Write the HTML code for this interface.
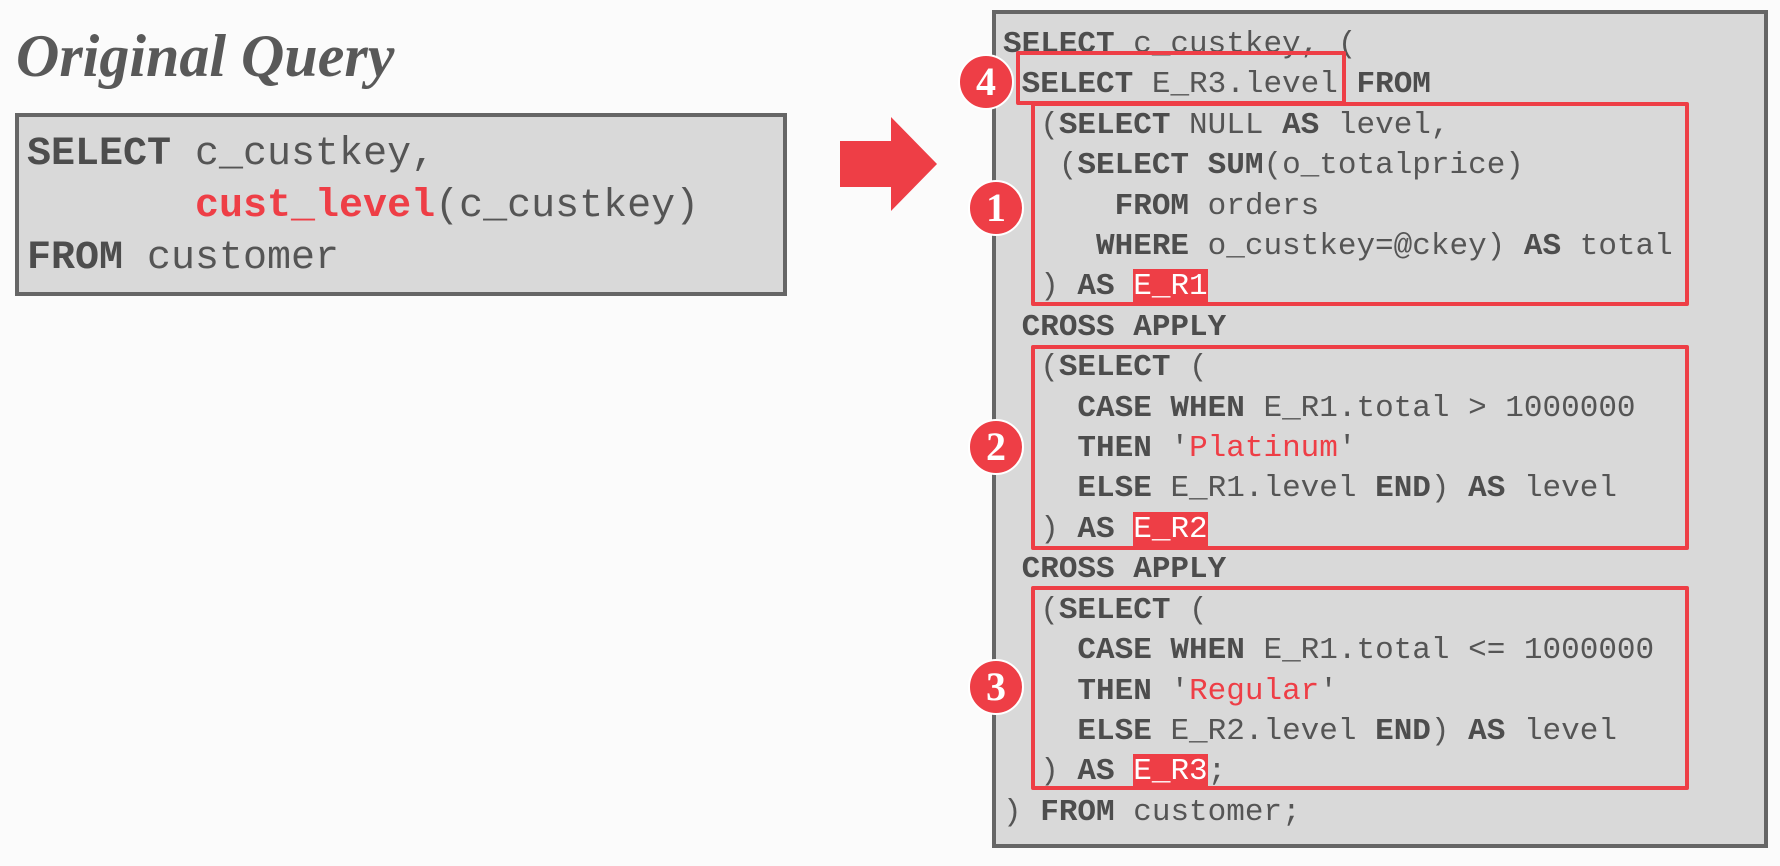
<!DOCTYPE html>
<html><head><style>
html,body{margin:0;padding:0;}
body{width:1780px;height:866px;position:relative;background:#fbfbfb;overflow:hidden;font-family:"Liberation Mono",monospace;color:#555;}
.t{position:absolute;left:16px;top:22px;font-family:"Liberation Serif",serif;font-style:italic;font-weight:bold;font-size:60px;color:#595959;letter-spacing:0px;}
.box{position:absolute;background:#d9d9d9;border:4px solid #666;box-sizing:border-box;}
pre{margin:0;position:absolute;font-family:"Liberation Mono",monospace;white-space:pre;}
b{font-weight:bold;color:#4d4d4d;}
.r{color:#ee3e46;}
.h{background:#ee3e46;color:#fff;}
.rb{position:absolute;border:4px solid #ee3e46;box-sizing:border-box;border-radius:2px;}
.c{position:absolute;width:56px;height:56px;border-radius:50%;background:#ee3e46;border:2px solid #fff;box-sizing:border-box;color:#fff;font-family:"Liberation Serif",serif;font-weight:bold;font-size:40px;text-align:center;line-height:52px;}
</style></head><body>
<div class="t">Original Query</div>
<div class="box" style="left:15px;top:113px;width:772px;height:183px;"></div>
<pre style="left:27px;top:129px;font-size:40px;line-height:52px;"><b>SELECT</b> c_custkey,
       <b class="r">cust_level</b>(c_custkey)
<b>FROM</b> customer</pre>
<svg style="position:absolute;left:0;top:0" width="1780" height="866">
<polygon points="840,141 891,141 891,117 937,164 891,211 891,187 840,187" fill="#ee3e46"/>
</svg>
<div class="box" style="left:992px;top:10px;width:776px;height:838px;"></div>
<pre style="left:1003px;top:25px;font-size:31px;line-height:40.4px;"><b>SELECT</b> c_custkey, (
 <b>SELECT</b> E_R3.level <b>FROM</b>
  (<b>SELECT</b> NULL <b>AS</b> level,
   (<b>SELECT</b> <b>SUM</b>(o_totalprice)
      <b>FROM</b> orders
     <b>WHERE</b> o_custkey=@ckey) <b>AS</b> total
  ) <b>AS</b> <span class="h">E_R1</span>
 <b>CROSS APPLY</b>
  (<b>SELECT</b> (
    <b>CASE WHEN</b> E_R1.total &gt; 1000000
    <b>THEN</b> '<span class="r">Platinum</span>'
    <b>ELSE</b> E_R1.level <b>END</b>) <b>AS</b> level
  ) <b>AS</b> <span class="h">E_R2</span>
 <b>CROSS APPLY</b>
  (<b>SELECT</b> (
    <b>CASE WHEN</b> E_R1.total &lt;= 1000000
    <b>THEN</b> '<span class="r">Regular</span>'
    <b>ELSE</b> E_R2.level <b>END</b>) <b>AS</b> level
  ) <b>AS</b> <span class="h">E_R3</span>;
) <b>FROM</b> customer;</pre>
<div class="rb" style="left:1016px;top:51px;width:330px;height:54px;"></div>
<div class="rb" style="left:1031px;top:102px;width:658px;height:204px;"></div>
<div class="rb" style="left:1031px;top:345px;width:658px;height:205px;"></div>
<div class="rb" style="left:1031px;top:586px;width:658px;height:204px;"></div>
<div class="c" style="left:958px;top:54px;">4</div>
<div class="c" style="left:968px;top:180px;">1</div>
<div class="c" style="left:968px;top:419px;">2</div>
<div class="c" style="left:968px;top:659px;">3</div>
</body></html>
